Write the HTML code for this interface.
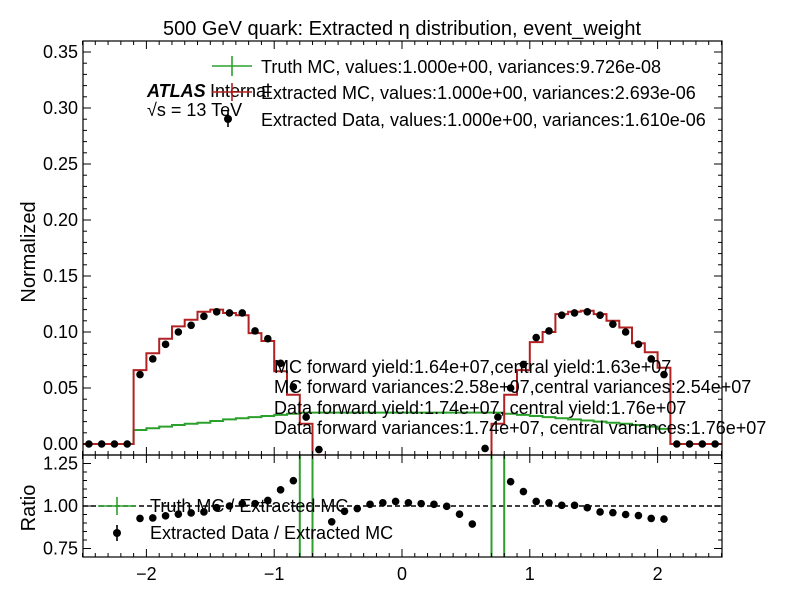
<!DOCTYPE html>
<html><head><meta charset="utf-8"><style>
html,body{margin:0;padding:0;background:#fff;overflow:hidden;width:799px;height:599px;}
svg{display:block;font-family:"Liberation Sans","DejaVu Sans",sans-serif;}
</style></head><body>
<svg id="chart" width="799" height="599" viewBox="0 0 799 599" xmlns="http://www.w3.org/2000/svg">
<rect width="799" height="599" fill="#fff"/>
<g id="marks"></g>
<g id="axes"></g>
<text x="402" y="35" font-size="20" text-anchor="middle">500 GeV quark: Extracted η distribution, event_weight</text>
<text transform="translate(35,252) rotate(-90)" font-size="20" text-anchor="middle">Normalized</text>
<text transform="translate(35,508) rotate(-90)" font-size="20" text-anchor="middle">Ratio</text>
<g>
<text x="147" y="97" font-size="18" font-weight="bold" font-style="italic">ATLAS</text>
<text x="210" y="97" font-size="18">Internal</text>
<text x="147" y="116" font-size="18">√s = 13 TeV</text>
</g>
<g>
<g>
<line x1="212" y1="66" x2="252" y2="66" stroke="#2ca02c" stroke-width="1.6"/><line x1="232" y1="56" x2="232" y2="76" stroke="#2ca02c" stroke-width="1.6"/>
<text x="261" y="73" font-size="18">Truth MC, values:1.000e+00, variances:9.726e-08</text></g>
<g>
<line x1="212" y1="92" x2="252" y2="92" stroke="#b22222" stroke-width="1.6"/><line x1="232" y1="83" x2="232" y2="101" stroke="#b22222" stroke-width="1.6"/>
<text x="261" y="99" font-size="18">Extracted MC, values:1.000e+00, variances:2.693e-06</text></g>
<g>
<circle cx="228" cy="119" r="4" fill="#000"/><line x1="228" y1="111" x2="228" y2="127" stroke="#000" stroke-width="1.6"/>
<text x="261" y="126" font-size="18">Extracted Data, values:1.000e+00, variances:1.610e-06</text></g>
</g>
<g font-size="18">
<text x="274" y="373">MC forward yield:1.64e+07,central yield:1.63e+07</text>
<text x="274" y="393">MC forward variances:2.58e+07,central variances:2.54e+07</text>
<text x="274" y="414">Data forward yield:1.74e+07, central yield:1.76e+07</text>
<text x="274" y="434">Data forward variances:1.74e+07, central variances:1.76e+07</text>
</g>
<g>
<g>
<line x1="98" y1="506" x2="136" y2="506" stroke="#2ca02c" stroke-width="1.6"/><line x1="117" y1="497" x2="117" y2="515" stroke="#2ca02c" stroke-width="1.6"/>
<text x="150" y="512" font-size="18">Truth MC / Extracted MC</text></g>
<g>
<circle cx="117" cy="533" r="4" fill="#000"/><line x1="117" y1="525" x2="117" y2="541" stroke="#000" stroke-width="1.6"/>
<text x="150" y="539" font-size="18">Extracted Data / Extracted MC</text></g>
</g>
</svg>
<script>
const binLo = -2.5, binW = 0.1;
const mcValues = [0,0,0,0,0.066,0.081,0.094,0.105,0.111,0.118,0.120,0.117,0.115,0.099,0.092,0.065,0.044,0.018,-0.01,-0.05,-0.05,-0.05,-0.05,-0.05,-0.05,-0.05,-0.05,-0.05,-0.05,-0.05,-0.05,-0.01,0.018,0.044,0.066,0.091,0.100,0.116,0.118,0.119,0.116,0.110,0.104,0.090,0.082,0.068,0,0,0,0];
const dataValues = [0,0,0,0,0.062,0.076,0.089,0.100,0.106,0.114,0.118,0.117,0.117,0.101,0.094,0.072,0.051,0.024,-0.005,-0.05,-0.05,-0.05,-0.05,-0.05,-0.05,-0.05,-0.05,-0.05,-0.05,-0.05,-0.05,-0.004,0.024,0.050,0.071,0.095,0.101,0.115,0.117,0.118,0.115,0.107,0.100,0.089,0.076,0.062,0,0,0,0];
const truthValues = [0,0,0,0,0.0125,0.014,0.0155,0.017,0.018,0.019,0.0205,0.022,0.023,0.024,0.025,0.026,0.027,0.028,0.028,0.028,0.028,0.028,0.028,0.028,0.028,0.028,0.028,0.028,0.028,0.028,0.028,0.028,0.028,0.027,0.026,0.025,0.024,0.023,0.022,0.021,0.020,0.019,0.018,0.017,0.0155,0.0135,0,0,0,0];
const ratioData = [null,null,null,null,0.927,0.930,0.942,0.952,0.959,0.965,0.990,1.000,1.014,1.014,1.033,1.095,1.149,null,null,0.907,0.969,0.985,1.010,1.019,1.027,1.019,1.014,1.010,0.998,0.952,0.894,null,null,1.143,1.085,1.027,1.019,1.004,1.004,0.990,0.965,0.961,0.950,0.944,0.927,0.923,null,null,null,null];
const xTicks = [-2,-1,0,1,2];
const xTickLabels = ["\u22122","\u22121","0","1","2"];
const yTicks = [0,0.05,0.10,0.15,0.20,0.25,0.30,0.35];
const yTickLabels = ["0.00","0.05","0.10","0.15","0.20","0.25","0.30","0.35"];
const rTicks = [0.75,1.0,1.25];
const rTickLabels = ["0.75","1.00","1.25"];

const L=83,R=722,T=41,B=455,RT=455,RB=557;
const xs = v => 402 + v*127.8;
const ys = v => 444 - v*1120;
const yr = v => 506 - (v-1)*170;
const NS="http://www.w3.org/2000/svg";
const marks=document.getElementById('marks'), axes=document.getElementById('axes');
function mk(tag,attrs,parent){const e=document.createElementNS(NS,tag);for(const k in attrs)e.setAttribute(k,attrs[k]);parent.appendChild(e);return e;}
const defs=mk('defs',{},marks);
const c1=mk('clipPath',{id:'cTop'},defs);mk('rect',{x:L,y:T,width:R-L,height:B-T},c1);
const c2=mk('clipPath',{id:'cRat'},defs);mk('rect',{x:L,y:RT,width:R-L,height:RB-RT},c2);
const gTop=mk('g',{'clip-path':'url(#cTop)'},marks);
const gRat=mk('g',{'clip-path':'url(#cRat)'},marks);
function stepPath(vals,yf){
  let d='';
  for(let i=0;i<vals.length;i++){
    const x0=xs(binLo+i*binW),x1=xs(binLo+(i+1)*binW),y=yf(vals[i]);
    d+=(i===0?'M':'L')+x0.toFixed(1)+','+y.toFixed(1)+'L'+x1.toFixed(1)+','+y.toFixed(1);
  }
  return d;
}
const truthLine=mk('path',{d:stepPath(truthValues,ys),fill:'none',stroke:'#2ca02c','stroke-width':2},gTop);


const mcLine=mk('path',{d:stepPath(mcValues,ys),fill:'none',stroke:'#b22222','stroke-width':2},gTop);


dataValues.forEach((v,i)=>{
  const c=mk('circle',{cx:xs(binLo+(i+0.5)*binW),cy:ys(v),r:3.8,fill:'#000'},gTop);
  
  
});
const dash=mk('line',{x1:L,x2:R,y1:yr(1),y2:yr(1),stroke:'#000','stroke-width':1.5,'stroke-dasharray':'5,3'},gRat);


const truthRatio=truthValues.map((t,i)=>mcValues[i]===0?-10:Math.max(-10,Math.min(10,t/mcValues[i])));
const tr=mk('path',{d:stepPath(truthRatio,yr),fill:'none',stroke:'#2ca02c','stroke-width':2},gRat);


ratioData.forEach((v,i)=>{
  if(v===null)return;
  const c=mk('circle',{cx:xs(binLo+(i+0.5)*binW),cy:yr(v),r:3.8,fill:'#000'},gRat);
  
  
});
[[T,B],[RT,RB]].forEach(([t,b])=>mk('rect',{x:L,y:t,width:R-L,height:b-t,fill:'none',stroke:'#000','stroke-width':1.2},axes));
for(let k=-25;k<=25;k++){
  const v=k/10, x=xs(v), major=(k%10===0);
  const len=major?8:4;
  [[T,1],[B,-1],[RT,1],[RB,-1]].forEach(([y,dir])=>mk('line',{x1:x,x2:x,y1:y,y2:y+dir*len,stroke:'#000','stroke-width':1},axes));
}
xTicks.forEach((v,i)=>{const t=mk('text',{x:xs(v),y:580,'font-size':18,'text-anchor':'middle'},axes);t.textContent=xTickLabels[i];
});
for(let k=0;k<=35;k++){
  const v=k/100,y=ys(v),major=(k%5===0),len=major?8:4;
  mk('line',{x1:L,x2:L+len,y1:y,y2:y,stroke:'#000'},axes);
  mk('line',{x1:R,x2:R-len,y1:y,y2:y,stroke:'#000'},axes);
}
yTicks.forEach((v,i)=>{const t=mk('text',{x:78,y:ys(v)+6,'font-size':18,'text-anchor':'end'},axes);t.textContent=yTickLabels[i];
});
for(let k=15;k<=26;k++){
  const v=k/20,y=yr(v),major=(k%5===0),len=major?8:4;
  if(y<RT||y>RB)continue;
  mk('line',{x1:L,x2:L+len,y1:y,y2:y,stroke:'#000'},axes);
  mk('line',{x1:R,x2:R-len,y1:y,y2:y,stroke:'#000'},axes);
}
rTicks.forEach((v,i)=>{const t=mk('text',{x:78,y:yr(v)+6,'font-size':18,'text-anchor':'end'},axes);t.textContent=rTickLabels[i];
});
</script>
</body></html>
